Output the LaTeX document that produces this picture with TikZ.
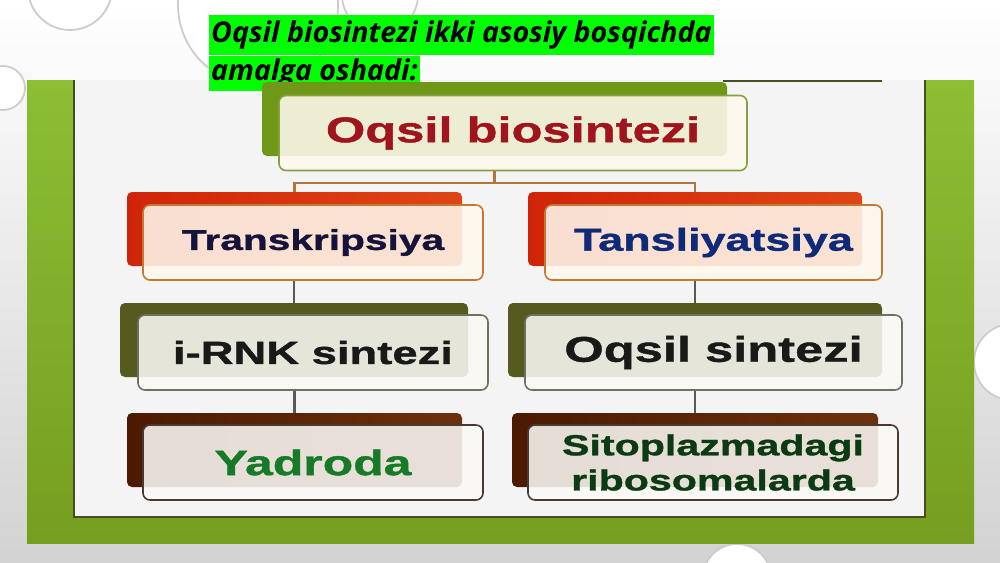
\documentclass[tikz,border=0pt]{standalone}
\usepackage{fontspec}
\setmainfont{Open Sans}
\newfontfamily\boxfont[FakeStretch=1.42, FakeBold=1.2]{Liberation Sans}
\usetikzlibrary{calc}

\newcommand\pxu{0.02cm}

% Colores
\definecolor{resaltado}{RGB}{0,255,0}
\definecolor{marcoverde}{RGB}{140,190,52}
\definecolor{marcoverdeosc}{RGB}{118,158,32}
\definecolor{panelborde}{RGB}{70,78,34}
\definecolor{tabverde}{RGB}{112,152,24}
\definecolor{tabrojo}{RGB}{208,36,8}
\definecolor{tabrojoclaro}{RGB}{222,70,20}
\definecolor{tabolivo}{RGB}{86,90,30}
\definecolor{tabmarron}{RGB}{76,26,0}
\definecolor{tabmarronclaro}{RGB}{108,48,14}
\definecolor{crema}{RGB}{255,249,238}
\definecolor{blanco}{RGB}{250,249,245}
\definecolor{bordeverde}{RGB}{138,158,66}
\definecolor{bordenaranja}{RGB}{196,120,52}
\definecolor{bordegris}{RGB}{112,112,96}
\definecolor{bordeoscuro}{RGB}{72,58,48}
\definecolor{txtrojo}{RGB}{160,20,28}
\definecolor{txtnegroazul}{RGB}{20,20,58}
\definecolor{txtazul}{RGB}{14,42,120}
\definecolor{txtverde}{RGB}{22,122,38}
\definecolor{txtverdeosc}{RGB}{12,58,18}
\definecolor{enlacemarron}{RGB}{176,118,58}

\tikzset{
  burbuja/.style={fill=white, draw=gray!40, line width=1pt},
  tab/.style={rounded corners=0.1cm, inner sep=0pt, minimum height=74*\pxu},
  frente/.style={draw, rounded corners=0.14cm, fill=blanco, fill opacity=0.88,
    text opacity=1, line width=0.9pt, inner sep=0pt, align=center,
    minimum height=75*\pxu},
  titulo/.style={fill=resaltado, anchor=north west, inner xsep=1pt, inner ysep=0pt,
    font=\bfseries\itshape\fontsize{16.3}{19}\selectfont},
  enlace/.style={line width=1.2pt, color=gray!70!black},
  enlacesup/.style={line width=1.2pt, color=enlacemarron}
}

\begin{document}
\begin{tikzpicture}[x=0.02cm, y=-0.02cm]
  \useasboundingbox (0,0) rectangle (1000,562);

  % Fondo y burbujas
  \shade[top color=white, middle color=gray!12, bottom color=gray!35] (0,0) rectangle (1000,562);
  \foreach \cx/\cy/\r in {70/-12/42, 258/5/80, 380/-5/38, 3/88/22, 1012/362/38, 737/578/34}
    \draw[burbuja] (\cx,\cy) circle (\r);

  % Marco verde y panel
  \shade[top color=marcoverde, bottom color=marcoverdeosc] (27,80) rectangle (974,543);
  \fill[gray!9] (74,80) rectangle (925,517);
  \draw[panelborde, line width=1.2pt] (74,80) -- (74,517) -- (925,517) -- (925,80);
  \draw[panelborde, line width=1pt] (723,81) -- (882,81);

  % Titulo
  \node[titulo, minimum height=40*\pxu] (t1) at (209,15) {Oqsil biosintezi ikki asosiy bosqichda};
  \node[titulo, minimum height=35*\pxu] (t2) at (t1.south west) {amalga oshadi:};

  % Pestanas
  \node[tab, fill=tabverde, minimum width=465*\pxu] (tT) at (494.5,119) {};
  \node[tab, left color=tabrojo, right color=tabrojoclaro, minimum width=335*\pxu] (tL1) at (294.5,229) {};
  \node[tab, left color=tabrojo, right color=tabrojoclaro, minimum width=334*\pxu] (tR1) at (695,229) {};
  \node[tab, fill=tabolivo, minimum width=348*\pxu] (tL2) at (294,340) {};
  \node[tab, fill=tabolivo, minimum width=374*\pxu] (tR2) at (695,340) {};
  \node[tab, left color=tabmarron, right color=tabmarronclaro, minimum width=335*\pxu] (tL3) at (294.5,450) {};
  \node[tab, left color=tabmarron, right color=tabmarronclaro, minimum width=366*\pxu] (tR3) at (695,450) {};

  % Cajas
  \node[frente, fill=crema, draw=bordeverde, minimum width=468*\pxu, text=txtrojo,
    font=\boxfont\bfseries\fontsize{20.3}{24}\selectfont] (T) at (513,133) {Oqsil biosintezi};
  \node[frente, fill=crema, draw=bordenaranja, minimum width=340*\pxu, text=txtnegroazul,
    font=\boxfont\bfseries\fontsize{16.3}{20}\selectfont] (L1) at (313,242.5) {Transkripsiya};
  \node[frente, fill=crema, draw=bordenaranja, minimum width=337*\pxu, text=txtazul,
    font=\boxfont\bfseries\fontsize{18}{22}\selectfont] (R1) at (713.5,242.5) {Tansliyatsiya};
  \node[frente, draw=bordegris, minimum width=350*\pxu, text=black!90,
    font=\boxfont\bfseries\fontsize{18.2}{22}\selectfont] (L2) at (313,352.5) {i-RNK sintezi};
  \node[frente, draw=bordegris, minimum width=377*\pxu, text=black!90,
    font=\boxfont\bfseries\fontsize{20.3}{24}\selectfont] (R2) at (713.5,352.5) {Oqsil sintezi};
  \node[frente, draw=bordeoscuro, minimum width=340*\pxu, text=txtverde,
    font=\boxfont\bfseries\fontsize{20}{24}\selectfont] (L3) at (313,462.5) {Yadroda};
  \node[frente, draw=bordeoscuro, minimum width=370*\pxu, text=txtverdeosc,
    font=\boxfont\bfseries\fontsize{16.5}{20}\selectfont] (R3) at (713,462.5) {Sitoplazmadagi\\ribosomalarda};

  % Conectores
  \draw[enlacesup] (tT.center |- T.south) -- ($(tT.center |- T.south)+(0,12)$) coordinate (cruce);
  \draw[enlacesup] (tL1.north) |- (cruce) -| (tR1.north);
  \draw[enlace] (tL2.north |- L1.south) -- (tL2.north);
  \draw[enlace] (tR2.north |- R1.south) -- (tR2.north);
  \draw[enlace] (tL3.north |- L2.south) -- (tL3.north);
  \draw[enlace] (tR3.north |- R2.south) -- (tR3.north);
\end{tikzpicture}
\end{document}
